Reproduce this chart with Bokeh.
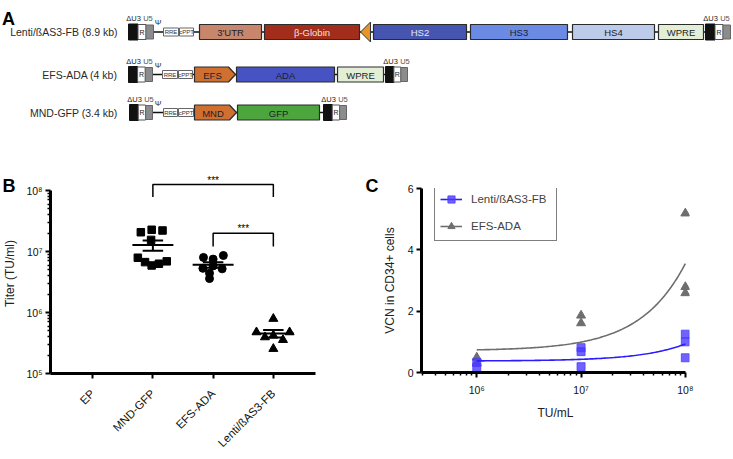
import math
import numpy as np
from bokeh.plotting import figure
from bokeh.layouts import column, row
from bokeh.models import Range1d, FixedTicker, Label, Legend, LegendItem
from bokeh.core.properties import value
from bokeh.embed import file_html
from bokeh.resources import INLINE

FONT = "Liberation Sans"

# ---------------- Panel A: vector schematics ----------------
construct_labels = ["Lenti/ßAS3-FB (8.9 kb)", "EFS-ADA (4 kb)", "MND-GFP (3.4 kb)"]
lenti_parts = [
    ("LTR", "ltr", 128, 153), ("RRE", "small", 163, 178), ("cPPT", "small", 179, 193),
    ("3'UTR", "box", 199, 261), ("β-Globin", "box", 264, 359), ("P", "tri", 360, 370),
    ("HS2", "box", 373, 466), ("HS3", "box", 470, 567), ("HS4", "box", 572, 654),
    ("WPRE", "box", 658, 703), ("LTR", "ltr", 705, 730),
]
efs_parts = [
    ("LTR", "ltr", 128, 152), ("RRE", "small", 162, 177), ("cPPT", "small", 178, 192),
    ("EFS", "arrow", 194, 235), ("ADA", "box", 236, 334), ("WPRE", "box", 337, 383),
    ("LTR", "ltr", 385, 407),
]
mnd_parts = [
    ("LTR", "ltr", 129, 152), ("RRE", "small", 163, 177), ("cPPT", "small", 178, 193),
    ("MND", "arrow", 194, 236), ("GFP", "box", 237, 319), ("LTR", "ltr", 323, 346),
]
part_fill = {"3'UTR": "#c8866c", "β-Globin": "#a22d1b", "P": "#e5962a", "HS2": "#4655b0",
             "HS3": "#6b8ae4", "HS4": "#bccbea", "WPRE": "#e2eed5", "EFS": "#cf7030",
             "MND": "#cf7030", "ADA": "#4753c2", "GFP": "#4da53d"}
part_text = {"β-Globin": "#f5e2da", "HS2": "#e2e6f8"}

# ---------------- Panel B: titer ----------------
b_categories = ["EP", "MND-GFP", "EFS-ADA", "Lenti/ßAS3-FB"]
mnd_titer = [2.07e7, 2.27e7, 2.21e7, 1.55e7, 7.9e6, 6.7e6, 5.9e6, 6.3e6, 6.9e6]
efs_titer = [8.0e6, 7.5e6, 8.6e6, 5.3e6, 5.8e6, 4.4e6, 5.2e6, 3.6e6]
lenti_titer = [7.9e5, 4.76e5, 4.76e5, 3.94e5, 4.2e5, 3.56e5, 2.54e5]
b_ticks = [1e5, 1e6, 1e7, 1e8]
b_tick_labels = ["10⁵", "10⁶", "10⁷", "10⁸"]
sig_pairs = [(2, 4), (3, 4)]
sig_text = ["***", "***"]

# ---------------- Panel C: VCN ----------------
lenti_vcn_dose = [1e6, 1e6, 1e7, 1e7, 1e7, 1e8, 1e8, 1e8]
lenti_vcn = [0.33, 0.17, 0.81, 0.68, 0.19, 1.25, 1.0, 0.48]
efs_vcn_dose = [1e6, 1e6, 1e7, 1e7, 1e8, 1e8, 1e8]
efs_vcn = [0.49, 0.30, 1.86, 1.61, 5.19, 2.79, 2.59]
lenti_fit = [0.374, 5.56e-9]   # intercept, slope (per TU/mL)
efs_fit = [0.71, 2.84e-8]
c_ticks = [1e6, 1e7, 1e8]
c_tick_labels = ["10⁶", "10⁷", "10⁸"]

# jitter offsets for the dot plot (layout only)
mnd_dx = [-0.2, -0.02, 0.16, -0.03, -0.25, -0.13, -0.02, 0.10, 0.23]
efs_dx = [-0.16, 0.0, 0.17, -0.17, 0.0, -0.06, 0.15, -0.06]
lenti_dx = [0.0, -0.28, 0.27, -0.14, 0.0, 0.16, 0.0]

# ================= Panel A figure =================
pa = figure(width=733, height=158, x_range=Range1d(0, 733), y_range=Range1d(158, 0),
            x_axis_type=None, y_axis_type=None, toolbar_location=None, title=None,
            output_backend="svg", min_border=0, frame_align=False)
pa.outline_line_color = None


def txt(p, x, y, s, size, color="#222", align="center", style="normal", base="middle"):
    p.text(x=[x], y=[y], text=[s], text_align=align, text_baseline=base,
           text_font=value(FONT), text_font_size=size, text_color=color,
           text_font_style=style)


def draw_construct(p, label, parts, yc):
    p.line([parts[0][2], parts[-1][3]], [yc, yc], line_color="#111", line_width=1.3)
    txt(p, 117, yc, label, "10.5px", "#2a2a2a", "right")
    txt(p, 157.5, yc - 9.5, "Ψ", "8px", "#333")
    for name, kind, x0, x1 in parts:
        if kind == "ltr":
            w = x1 - x0
            xb = x0 + 0.38 * w
            xr = xb + 0.32 * w
            p.quad(left=[x0], right=[xb], top=[yc - 8], bottom=[yc + 8],
                   fill_color="#111", line_color="#111")
            p.quad(left=[xb], right=[xr], top=[yc - 7.5], bottom=[yc + 7.5],
                   fill_color="white", line_color="#555", line_width=1)
            p.quad(left=[xr], right=[x1], top=[yc - 7], bottom=[yc + 7],
                   fill_color="#8c8c8c", line_color="#666", line_width=1)
            txt(p, (xb + xr) / 2, yc, "R", "7px", "#222")
            txt(p, x0 + 5, yc - 13.5, "ΔU3", "7.5px", "#222")
            txt(p, x0 + 19.5, yc - 13.5, "U5", "7.5px", "#555")
        elif kind == "small":
            p.quad(left=[x0], right=[x1], top=[yc - 4], bottom=[yc + 4],
                   fill_color="white", line_color="#666", line_width=1)
            txt(p, (x0 + x1) / 2, yc, name, "6px", "#333")
        elif kind == "box":
            p.quad(left=[x0], right=[x1], top=[yc - 7.5], bottom=[yc + 7.5],
                   fill_color=part_fill[name], line_color="#2b2b2b", line_width=1.2)
            txt(p, (x0 + x1) / 2, yc + 0.5, name, "9.5px", part_text.get(name, "#1d1d2a"))
        elif kind == "arrow":
            p.patch([x0, x1 - 7, x1, x1 - 7, x0],
                    [yc - 7.5, yc - 7.5, yc, yc + 7.5, yc + 7.5],
                    fill_color=part_fill[name], line_color="#2b2b2b", line_width=1.2)
            txt(p, (x0 + x1 - 5) / 2, yc + 0.5, name, "9.5px", "#1d1d2a")
        elif kind == "tri":
            p.patch([x0, x1, x1], [yc, yc - 10, yc + 10],
                    fill_color=part_fill[name], line_color="#333", line_width=1)


txt(pa, 1.5, 18, "A", "18px", "#000", "left", "bold", "alphabetic")
row_y = [31.5, 74, 112]
for lab, parts, yc in zip(construct_labels, [lenti_parts, efs_parts, mnd_parts], row_y):
    draw_construct(pa, lab, parts, yc)


def style_axis(ax):
    ax.axis_line_width = 3
    ax.major_tick_line_width = 2
    ax.major_tick_out = 5
    ax.major_tick_in = 0
    ax.minor_tick_line_width = 1.5
    ax.minor_tick_out = 3
    ax.minor_tick_in = 0
    ax.major_label_text_font = FONT
    ax.major_label_text_font_size = "10.5px"
    ax.major_label_text_color = "#111"
    ax.axis_label_text_font = FONT
    ax.axis_label_text_font_size = "12px"
    ax.axis_label_text_font_style = "normal"
    ax.axis_label_text_color = "#222"


# ================= Panel B figure =================
pb = figure(width=363, height=300, x_range=Range1d(0.3, 4.7), y_range=Range1d(1e5, 1.9e8),
            y_axis_type="log", toolbar_location=None, output_backend="svg", title=None,
            frame_align=False,
            min_border_left=49, min_border_right=48, min_border_top=15, min_border_bottom=85)
pb.grid.visible = False
pb.outline_line_color = None

groups = [(2, mnd_titer, mnd_dx, "square", 7.5), (3, efs_titer, efs_dx, "circle", 8),
          (4, lenti_titer, lenti_dx, "triangle", 9)]
for xc, vals, dx, mk, sz in groups:
    xs = [xc + d for d in dx]
    pb.scatter(xs, vals, marker=mk, size=sz, color="black")
    m = float(np.mean(vals))
    sem = float(np.std(vals, ddof=1) / math.sqrt(len(vals)))
    pb.line([xc - 0.34, xc + 0.34], [m, m], line_color="black", line_width=2)
    pb.line([xc, xc], [m - sem, m + sem], line_color="black", line_width=2)
    pb.line([xc - 0.17, xc + 0.17], [m + sem, m + sem], line_color="black", line_width=2)
    pb.line([xc - 0.17, xc + 0.17], [m - sem, m - sem], line_color="black", line_width=2)

sig_top = [1.25e8, 2.0e7]
sig_leg = [7.8e7, 1.21e7]
sig_star = [1.45e8, 2.35e7]
for (a, b), t, top, leg, ys in zip(sig_pairs, sig_text, sig_top, sig_leg, sig_star):
    pb.line([a, a, b, b], [leg, top, top, leg], line_color="black", line_width=1.5)
    pb.text(x=[(a + b) / 2], y=[ys], text=[t], text_align="center", text_baseline="middle",
            text_font=value(FONT), text_font_size="10px", text_color="black")

xa = pb.xaxis[0]
xa.ticker = FixedTicker(ticks=[1, 2, 3, 4])
xa.major_label_overrides = {i + 1: c for i, c in enumerate(b_categories)}
xa.major_label_orientation = math.pi / 4
ya = pb.yaxis[0]
ya.ticker = FixedTicker(ticks=b_ticks,
                        minor_ticks=[k * 10 ** e for e in (5, 6, 7) for k in range(2, 10)])
ya.major_label_overrides = {t: l for t, l in zip(b_ticks, b_tick_labels)}
ya.bounds = (1e5, 1e8)
ya.axis_label = "Titer (TU/ml)"
style_axis(xa)
style_axis(ya)
xa.major_label_text_font_size = "11.5px"
xa.minor_tick_line_color = None
xa.major_label_standoff = 13
ya.major_label_standoff = 3
ya.axis_label_standoff = 6
pb.add_layout(Label(x=-313, y=188, x_units="screen", y_units="screen", text="B",
                    text_font=FONT, text_font_size="18px", text_font_style="bold",
                    text_baseline="alphabetic", text_align="left", text_color="black"), "right")

# ================= Panel C figure =================
pc = figure(width=370, height=300, x_axis_type="log", x_range=Range1d(10 ** 5.47, 10 ** 8.04),
            y_range=Range1d(0, 6), toolbar_location=None, output_backend="svg", title=None,
            frame_align=False,
            min_border_left=58, min_border_right=44, min_border_top=30, min_border_bottom=86)
pc.grid.visible = False
pc.outline_line_color = None

fx = np.logspace(6, 8, 120)
gray_line = pc.line(fx, efs_fit[0] + efs_fit[1] * fx, line_color="#6e6e6e", line_width=1.6)
gray_pts = pc.scatter(efs_vcn_dose, efs_vcn, marker="triangle", size=9, color="#6e6e6e")
blue_pts = pc.scatter(lenti_vcn_dose, lenti_vcn, marker="square", size=8, fill_color="#4b3bff",
                      line_color="#4b3bff", fill_alpha=0.8, line_alpha=0.8)
blue_line = pc.line(fx, lenti_fit[0] + lenti_fit[1] * fx, line_color="#2a1cff", line_width=1.6)

cx = pc.xaxis[0]
cx.ticker = FixedTicker(ticks=c_ticks,
                        minor_ticks=[k * 10 ** e for e in (5, 6, 7) for k in range(2, 10)])
cx.major_label_overrides = {t: l for t, l in zip(c_ticks, c_tick_labels)}
cx.bounds = (10 ** 5.47, 1e8)
cx.axis_label = "TU/mL"
cy = pc.yaxis[0]
cy.ticker = FixedTicker(ticks=[0, 2, 4, 6])
cy.axis_label = "VCN in CD34+ cells"
style_axis(cx)
style_axis(cy)
cy.minor_tick_line_color = None
cy.major_label_standoff = 3
cy.axis_label_standoff = 8
cx.major_label_standoff = 6
cx.axis_label_standoff = 7

leg = Legend(items=[LegendItem(label="Lenti/ßAS3-FB", renderers=[blue_line, blue_pts]),
                    LegendItem(label="EFS-ADA", renderers=[gray_line, gray_pts])],
             location=(13, 131))
leg.border_line_color = "black"
leg.border_line_width = 1.5
leg.background_fill_alpha = 1
leg.label_text_font = FONT
leg.label_text_font_size = "11.5px"
leg.glyph_width = 22
leg.glyph_height = 18
leg.label_height = 18
leg.label_width = 80
leg.spacing = 9
leg.padding = 5
leg.margin = 0
leg.label_standoff = 9
pc.add_layout(leg)
pc.add_layout(Label(x=-324, y=187, x_units="screen", y_units="screen", text="C",
                    text_font=FONT, text_font_size="18px", text_font_style="bold",
                    text_baseline="alphabetic", text_align="left", text_color="black"), "right")

layout = column(pa, row(pb, pc))
open("out.html", "w").write(file_html(layout, INLINE))
